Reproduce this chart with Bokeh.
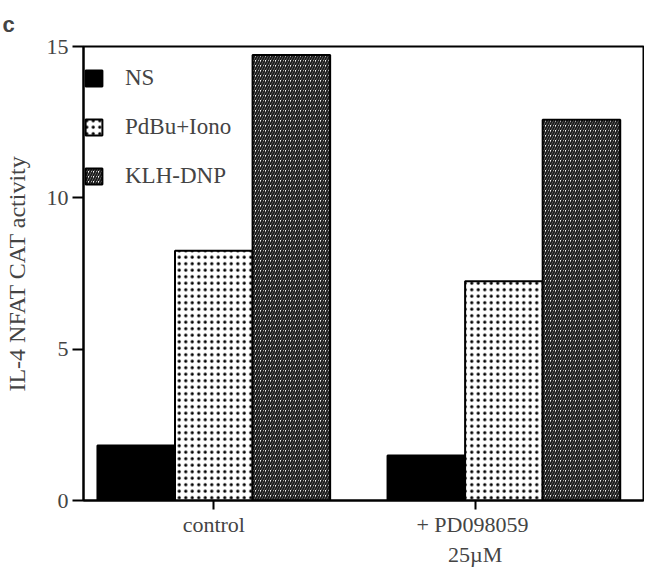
from bokeh.plotting import figure
from bokeh.models import Range1d, FixedTicker, Legend, LegendItem, ColumnDataSource
from bokeh.embed import file_html
from bokeh.resources import INLINE

# ---- data ----
groups = ["control", "+  PD098059\n25\u00b5M"]
series = ["NS", "PdBu+Iono", "KLH-DNP"]
ns_vals = [1.82, 1.49]
pdbu_vals = [8.25, 7.24]
klh_vals = [14.72, 12.58]
y_ticks = [0, 5, 10, 15]

# ---- layout constants ----
group_centers = [0.0, 3.74]
label_pos = [0.0, 3.37]
offsets = [-1.0, 0.0, 1.0]
SERIF = "Liberation Serif"

p = figure(width=644, height=569, output_backend="svg", toolbar_location=None,
           x_range=Range1d(-1.68, 5.54), y_range=Range1d(0, 15),
           min_border_left=78, min_border_right=1, min_border_top=45, min_border_bottom=67,
           title="c")
p.title.text_font = "Liberation Sans"
p.title.text_font_style = "bold"
p.title.text_font_size = "22px"
p.title.align = "left"
p.title.offset = -81
p.title.standoff = 19

p.outline_line_color = "black"
p.outline_line_width = 2
p.outline_line_alpha = 1
p.grid.visible = False
p.background_fill_color = "white"
p.border_fill_color = "white"

styles = [
    dict(fill_color="black"),
    dict(fill_color="white", hatch_pattern="dot", hatch_scale=6.5, hatch_weight=0.5, hatch_color="black"),
    dict(fill_color="white", hatch_pattern="/", hatch_scale=5, hatch_weight=2.0, hatch_color="#1a1a1a"),
]
vals = [ns_vals, pdbu_vals, klh_vals]
renderers = []
for s, v, off, st in zip(series, vals, offsets, styles):
    src = ColumnDataSource(dict(x=[c + off for c in group_centers], top=v))
    r = p.vbar(x="x", top="top", width=1.0, bottom=0, source=src,
               line_color="black", line_width=2, **st)
    renderers.append(r)

legend = Legend(items=[LegendItem(label=s, renderers=[r]) for s, r in zip(series, renderers)],
                location=(0, 311), orientation="vertical")
legend.border_line_color = None
legend.background_fill_alpha = 0
legend.padding = 0
legend.margin = 0
legend.glyph_width = 21
legend.glyph_height = 20
legend.label_height = 20
legend.spacing = 23
legend.label_standoff = 21
legend.label_text_font = SERIF
legend.label_text_font_size = "23px"
legend.label_text_baseline = "middle"
p.add_layout(legend)

# axes
p.yaxis.ticker = FixedTicker(ticks=y_ticks)
p.yaxis.axis_label = "IL-4 NFAT CAT activity"
p.yaxis.axis_label_text_font = SERIF
p.yaxis.axis_label_text_font_style = "normal"
p.yaxis.axis_label_text_font_size = "24px"
p.yaxis.axis_label_standoff = 14
p.yaxis.major_label_text_font = SERIF
p.yaxis.major_label_text_font_size = "22px"
p.yaxis.major_label_standoff = 4
p.yaxis.major_tick_out = 11
p.yaxis.major_tick_in = 0
p.yaxis.minor_tick_out = 0
p.yaxis.minor_tick_in = 0
p.yaxis.axis_line_width = 2
p.yaxis.major_tick_line_width = 2

p.xaxis.ticker = FixedTicker(ticks=label_pos)
p.xaxis.major_label_overrides = {label_pos[i]: groups[i] for i in range(len(groups))}
p.xaxis.major_label_text_font = SERIF
p.xaxis.major_label_text_font_size = "22px"
p.xaxis.major_label_standoff = 2
p.xaxis.major_tick_out = 9
p.xaxis.major_tick_in = 0
p.xaxis.minor_tick_out = 0
p.xaxis.minor_tick_in = 0
p.xaxis.axis_line_width = 2
p.xaxis.major_tick_line_width = 2

open("out.html", "w").write(file_html(p, INLINE))
